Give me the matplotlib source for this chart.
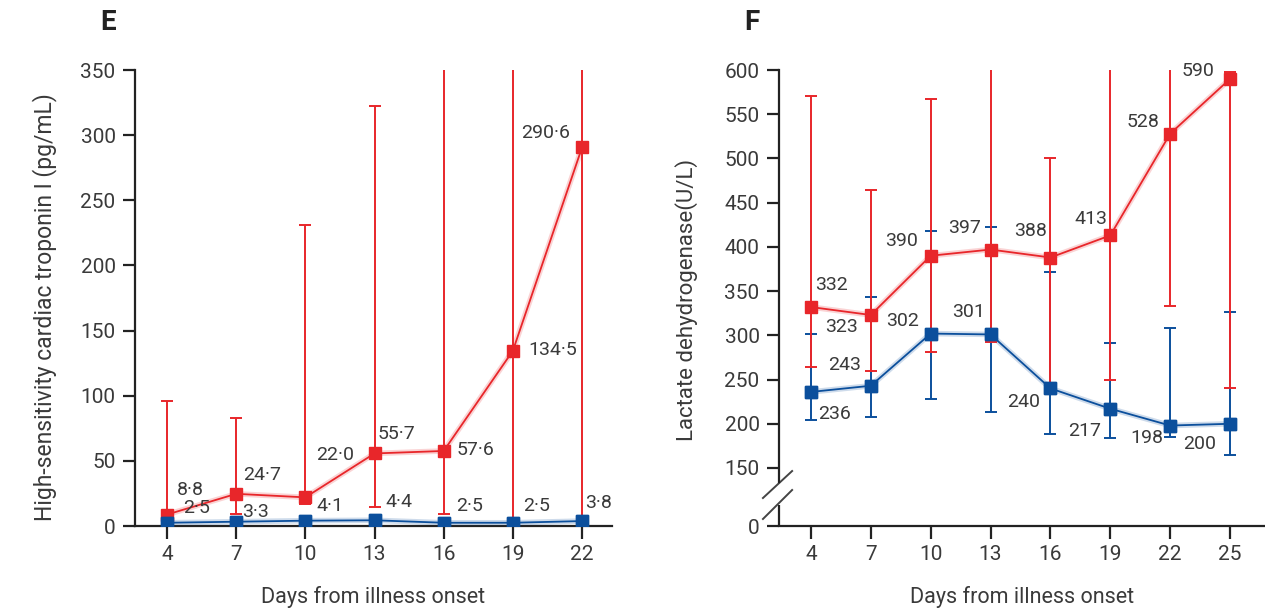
import numpy as np
import matplotlib
matplotlib.use("Agg")
import matplotlib.pyplot as plt

plt.rcParams['font.family'] = ['Roboto', 'DejaVu Sans']

RED = '#e8262a'
BLUE = '#0b4f9c'
TXT = '#3a3a3a'

# panel E: high-sensitivity cardiac troponin I
days_e = [4, 7, 10, 13, 16, 19, 22]
trop_red = [8.8, 24.7, 22.0, 55.7, 57.6, 134.5, 290.6]
trop_red_lo = [4, 9.5, 16.9, 14.8, 9.5, 5, 5]
trop_red_hi = [95.9, 82.6, 231, 322, 380, 380, 380]
trop_blue = [2.5, 3.3, 4.1, 4.4, 2.5, 2.5, 3.8]
trop_blue_lo = [1.9, 2.6, 3.0, 3.3, 1.9, 1.9, 2.9]
trop_blue_hi = [3.5, 4.6, 6.0, 6.3, 3.8, 3.6, 5.4]
trop_red_lbl = ['8·8', '24·7', '22·0', '55·7', '57·6', '134·5', '290·6']
trop_blue_lbl = ['2·5', '3·3', '4·1', '4·4', '2·5', '2·5', '3·8']

# panel F: lactate dehydrogenase
days_f = [4, 7, 10, 13, 16, 19, 22, 25]
ldh_red = [332, 323, 390, 397, 388, 413, 528, 590]
ldh_red_lo = [264, 260, 281, 292, 245, 250, 333, 240]
ldh_red_hi = [571, 464, 567, 650, 500, 650, 620, 598]
ldh_blue = [236, 243, 302, 301, 240, 217, 198, 200]
ldh_blue_lo = [204, 208, 228, 213, 189, 184, 185, 165]
ldh_blue_hi = [301, 343, 418, 423, 372, 291, 308, 326]

# label offsets in pixels (dx, dy)
off_e_red = [(23, 25), (26, 19), (30, 42), (22, 19), (32, 1), (40, 1), (-36, 14)]
off_e_blue = [(30, 15), (19, 10), (25, 15), (24, 18), (26, 17), (24, 17), (17, 18)]
off_f_red = [(21, 22), (-29, -12), (-29, 15), (-26, 22), (-20, 27), (-19, 16), (-27, 12), (-32, 8)]
off_f_blue = [(24, -22), (-26, 21), (-28, 13), (-22, 22), (-27, -14), (-26, -22), (-23, -12), (-30, -20)]

fig = plt.figure(figsize=(12.65, 6.13), dpi=100)
ax1 = fig.add_axes([0.1067, 0.1419, 0.3771, 0.7439])
ax2 = fig.add_axes([0.6158, 0.1419, 0.3842, 0.7439])


def draw_series(ax, x, y, lo, hi, color, z):
    y = np.asarray(y, float)
    yerr = [y - np.asarray(lo), np.asarray(hi) - y]
    ax.errorbar(x, y, yerr=yerr, fmt='none', ecolor=color, elinewidth=1.4,
                capsize=4, capthick=1.4, zorder=z)
    ax.plot(x, y, '-', color=color, lw=4, alpha=0.2, zorder=z + 1, solid_capstyle='round')
    ax.plot(x, y, '-', color=color, lw=1.3, zorder=z + 1)
    ax.plot(x, y, 's', color=color, ms=8, zorder=z + 2)


def annotate(ax, x, y, labels, offs):
    for xi, yi, s, (dx, dy) in zip(x, y, labels, offs):
        ax.annotate(s, (xi, yi), xytext=(dx, dy), textcoords='offset pixels',
                    ha='center', va='center', fontsize=14, color=TXT, zorder=10)


def style(ax):
    for s in ['top', 'right']:
        ax.spines[s].set_visible(False)
    for s in ['left', 'bottom']:
        ax.spines[s].set_linewidth(1.6)
        ax.spines[s].set_color('#222222')
    ax.tick_params(axis='both', length=9, width=1.6, color='#222222',
                   labelsize=15, labelcolor=TXT, pad=5)
    ax.set_xlabel('Days from illness onset', fontsize=15.5, color=TXT, va='center')
    ax.xaxis.set_label_coords(0.5, -0.156)


# ---- panel E
draw_series(ax1, days_e, trop_blue, trop_blue_lo, trop_blue_hi, BLUE, 2)
draw_series(ax1, days_e, trop_red, trop_red_lo, trop_red_hi, RED, 1)
ax1.plot(days_e, trop_blue, 's', color=BLUE, ms=8, zorder=6)
annotate(ax1, days_e, trop_red, trop_red_lbl, off_e_red)
annotate(ax1, days_e, trop_blue, trop_blue_lbl, off_e_blue)
ax1.set_xlim(2.61, 23.3)
ax1.set_ylim(0, 350)
ax1.set_xticks(days_e)
ax1.set_yticks(np.arange(0, 351, 50))
style(ax1)
ax1.set_ylabel('High-sensitivity cardiac troponin I (pg/mL)', fontsize=16.5, color=TXT, va='center')
ax1.yaxis.set_label_coords(-0.189, 0.48)

# ---- panel F (broken y axis between 0 and 150)
def fwd(v):
    v = np.asarray(v, float)
    return np.where(v >= 150, v, 84.4 + v * (150 - 84.4) / 150)


def inv(v):
    v = np.asarray(v, float)
    return np.where(v >= 150, v, (v - 84.4) * 150 / (150 - 84.4))


ax2.set_yscale('function', functions=(fwd, inv))
draw_series(ax2, days_f, ldh_red, ldh_red_lo, ldh_red_hi, RED, 3)
draw_series(ax2, days_f, ldh_blue, ldh_blue_lo, ldh_blue_hi, BLUE, 1)
ax2.plot(days_f, ldh_blue, 's', color=BLUE, ms=8, zorder=6)
annotate(ax2, days_f, ldh_red, [str(v) for v in ldh_red], off_f_red)
annotate(ax2, days_f, ldh_blue, [str(v) for v in ldh_blue], off_f_blue)
ax2.set_xlim(2.40, 26.75)
ax2.set_ylim(0, 600)
ax2.set_xticks(days_f)
ax2.set_yticks([0] + list(range(150, 601, 50)))
ax2.yaxis.set_minor_locator(matplotlib.ticker.NullLocator())
style(ax2)
ax2.set_ylabel('Lactate dehydrogenase(U/L)', fontsize=16, color=TXT, va='center')
ax2.yaxis.set_label_coords(-0.191, 0.495)
ax2.spines['left'].set_bounds(114, 600)
ax2.plot([0, 0], [0, 0.046], transform=ax2.transAxes, color='#222222', lw=1.6,
         clip_on=False, solid_capstyle='butt')
for y0, y1 in [(0.0614, 0.1206), (0.0154, 0.079)]:
    ax2.plot([-0.033, 0.027], [y0, y1], transform=ax2.transAxes, color='#444444',
             lw=1.4, clip_on=False)

fig.text(108 / 1265, 1 - 22 / 613, 'E', fontsize=20, fontweight='bold', color='#222222',
         ha='center', va='center')
fig.text(752 / 1265, 1 - 22 / 613, 'F', fontsize=20, fontweight='bold', color='#222222',
         ha='center', va='center')

fig.savefig('out.png', dpi=100)
